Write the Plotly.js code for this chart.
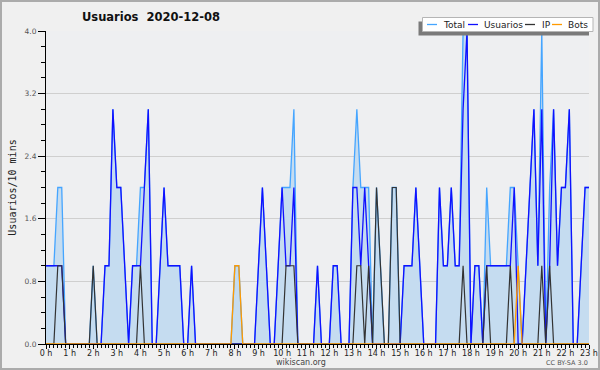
<!DOCTYPE html>
<html>
<head>
<meta charset="utf-8">
<script src="https://cdn.plot.ly/plotly-3.0.1.min.js"></script>
<style>
  html, body { margin: 0; padding: 0; background: #f0f0f0; }
  #wrap { position: relative; width: 600px; height: 370px; }
  #chart { position: absolute; left: 0; top: 0; width: 600px; height: 370px; }
  #frame { position: absolute; left: 0; top: 0; width: 600px; height: 370px; box-sizing: border-box; border: 2px solid #ababab; pointer-events: none; }
</style>
</head>
<body>
<div id="wrap"><div id="chart"></div><div id="frame"></div></div>
<script>
// ---- data (10-minute bins, 0:00 .. 23:00) ----
const hourLabels = ["0 h","1 h","2 h","3 h","4 h","5 h","6 h","7 h","8 h","9 h","10 h","11 h","12 h","13 h","14 h","15 h","16 h","17 h","18 h","19 h","20 h","21 h","22 h","23 h"];

const total = [
  1,1,1,2,2,0,0,0,0,0, 0,0,1,0,0,1,1,3,2,2,
  1,0,1,1,2,2,3,0,0,1, 2,1,1,1,1,0,0,1,0,0,
  0,0,0,0,0,0,0,0,1,1, 0,0,0,0,1,2,1,0,0,1,
  2,2,2,3,0,0,0,0,0,1, 0,0,0,1,1,0,0,0,2,3,
  2,2,2,0,2,1,0,0,2,2, 0,1,1,1,2,1,0,0,0,0,
  2,1,1,2,1,1,4,4,0,1, 1,0,2,1,1,1,1,1,2,2,
  1,0,1,2,3,1,4,0,2,3, 1,2,2,3,0,0,1,2,2
];
const usuarios = [
  1,1,1,1,1,0,0,0,0,0, 0,0,0,0,0,1,1,3,2,2,
  1,0,1,1,1,2,3,0,0,1, 2,1,1,1,1,0,0,1,0,0,
  0,0,0,0,0,0,0,0,0,0, 0,0,0,0,1,2,1,0,0,1,
  2,1,1,2,0,0,0,0,0,1, 0,0,0,1,1,0,0,0,2,2,
  1,2,1,0,0,0,0,0,0,0, 0,1,1,1,2,1,0,0,0,0,
  2,1,1,2,1,1,3,4,0,1, 1,0,1,1,1,1,1,1,1,2,
  0,0,1,2,3,1,3,0,1,3, 1,2,2,3,0,0,1,2,2
];
const ip = [
  0,0,0,1,1,0,0,0,0,0, 0,0,1,0,0,0,0,0,0,0,
  0,0,0,0,1,0,0,0,0,0, 0,0,0,0,0,0,0,0,0,0,
  0,0,0,0,0,0,0,0,0,0, 0,0,0,0,0,0,0,0,0,0,
  0,1,1,1,0,0,0,0,0,0, 0,0,0,0,0,0,0,0,0,1,
  1,0,1,0,2,1,0,0,2,2, 0,0,0,0,0,0,0,0,0,0,
  0,0,0,0,0,0,1,0,0,0, 0,0,1,0,0,0,0,0,1,0,
  0,0,0,0,0,0,1,0,1,0, 0,0,0,0,0,0,0,0,0
];
const bots = [
  0,0,0,0,0,0,0,0,0,0, 0,0,0,0,0,0,0,0,0,0,
  0,0,0,0,0,0,0,0,0,0, 0,0,0,0,0,0,0,0,0,0,
  0,0,0,0,0,0,0,0,1,1, 0,0,0,0,0,0,0,0,0,0,
  0,0,0,0,0,0,0,0,0,0, 0,0,0,0,0,0,0,0,0,0,
  0,0,0,0,0,0,0,0,0,0, 0,0,0,0,0,0,0,0,0,0,
  0,0,0,0,0,0,0,0,0,0, 0,0,0,0,0,0,0,0,0,0,
  1,0,0,0,0,0,0,0,0,0, 0,0,0,0,0,0,0,0,0
];
const seriesNames = ["Total","Usuarios","IP","Bots"];
const seriesColors = ["#45a5ff","#1010ff","#333333","#ff9a00"];

// time of each bin in hours
const times = total.map((_, i) => i / 6);

// ---- layout geometry ----
const W = 600, H = 370;
const M = {l: 46, r: 11, t: 31, b: 26};
const pw = W - M.l - M.r, ph = H - M.t - M.b;
const px = x => (x - M.l) / pw;          // pixel -> paper x
const py = y => (H - M.b - y) / ph;      // pixel -> paper y

const traces = [
  {x: times, y: total, name: seriesNames[0], type: "scatter", mode: "lines",
   line: {color: seriesColors[0], width: 1.3}, fill: "tozeroy", fillcolor: "#c5dcf0"},
  {x: times, y: usuarios, name: seriesNames[1], type: "scatter", mode: "lines",
   line: {color: seriesColors[1], width: 1.3}},
  {x: times, y: ip, name: seriesNames[2], type: "scatter", mode: "lines",
   line: {color: seriesColors[2], width: 1.2}},
  {x: times, y: bots, name: seriesNames[3], type: "scatter", mode: "lines",
   line: {color: seriesColors[3], width: 1.3}}
];

// manual legend (short line samples, box with shadow)
const legBox = {x0: 422.5, x1: 593, y0: 17.5, y1: 31.5};
const legItems = [
  {lx: 427, tx: 441, text: "Total"},
  {lx: 468, tx: 482, text: "Usuarios"},
  {lx: 525, tx: 540, text: "IP"},
  {lx: 552, tx: 566, text: "Bots"}
];
const shapes = [
  {type: "rect", xref: "paper", yref: "paper", layer: "above",
   x0: px(legBox.x0 - 4), x1: px(legBox.x1 - 4), y0: py(legBox.y0 + 4), y1: py(legBox.y1 + 4),
   fillcolor: "#7a7a7a", line: {width: 0}},
  {type: "rect", xref: "paper", yref: "paper", layer: "above",
   x0: px(legBox.x0), x1: px(legBox.x1), y0: py(legBox.y0), y1: py(legBox.y1),
   fillcolor: "#ffffff", line: {color: "#b5b5b5", width: 1}}
];
const annotations = [];
legItems.forEach((it, k) => {
  shapes.push({type: "line", xref: "paper", yref: "paper", layer: "above",
    x0: px(it.lx), x1: px(it.lx + 10), y0: py(24.5), y1: py(24.5),
    line: {color: seriesColors[k], width: 1.3}});
  annotations.push({xref: "paper", yref: "paper", x: px(it.tx), y: py(24.5),
    xanchor: "left", yanchor: "middle", showarrow: false, text: it.text,
    font: {family: "DejaVu Sans", size: 9, color: "#222"}});
});
annotations.push({xref: "paper", yref: "paper", x: px(301), y: py(362.5), xanchor: "center", yanchor: "middle",
  showarrow: false, text: "wikiscan.org", font: {family: "DejaVu Sans", size: 8, color: "#444"}});
annotations.push({xref: "paper", yref: "paper", x: px(590), y: py(363), xanchor: "right", yanchor: "middle",
  showarrow: false, text: "CC BY-SA 3.0", font: {family: "DejaVu Sans", size: 6.5, color: "#555"}});

const layout = {
  width: W, height: H,
  margin: M,
  paper_bgcolor: "#f0f0f0",
  plot_bgcolor: "#eeeff1",
  showlegend: false,
  title: {text: "Usuarios&nbsp;&nbsp;2020-12-08", x: 151 / W, xanchor: "center",
          y: 1 - 17 / H, yanchor: "middle",
          font: {family: "DejaVu Sans", size: 11.5, color: "#111", weight: "bold"}},
  xaxis: {
    range: [0, times[times.length - 1]],
    tickvals: hourLabels.map((_, h) => h), ticktext: hourLabels,
    ticks: "outside", ticklen: 4, tickcolor: "#000", tickwidth: 1,
    ticklabelstandoff: -3,
    minor: {dtick: 1 / 6, tick0: 0, ticks: "outside", ticklen: 3, tickcolor: "#000", tickwidth: 1, showgrid: false},
    showline: true, linecolor: "#000", linewidth: 1,
    showgrid: false, zeroline: false, fixedrange: true,
    tickfont: {family: "DejaVu Sans", size: 8, color: "#222"}
  },
  yaxis: {
    range: [0, 4],
    tickvals: [0, 0.8, 1.6, 2.4, 3.2, 4.0], ticktext: ["0.0","0.8","1.6","2.4","3.2","4.0"],
    ticks: "outside", ticklen: 7, tickcolor: "#000", tickwidth: 1,
    minor: {dtick: 0.2, tick0: 0, ticks: "outside", ticklen: 4, tickcolor: "#000", tickwidth: 1, showgrid: false},
    showline: true, linecolor: "#000", linewidth: 1,
    showgrid: true, gridcolor: "#cfcfcf", gridwidth: 1, zeroline: false, fixedrange: true,
    tickfont: {family: "DejaVu Sans", size: 7.5, color: "#555"},
    title: {text: "Usuarios/10 mins", standoff: 6,
            font: {family: "DejaVu Sans Mono", size: 10, color: "#222"}}
  },
  shapes: shapes,
  annotations: annotations
};

Plotly.newPlot("chart", traces, layout, {displayModeBar: false, staticPlot: true});
</script>
</body>
</html>
